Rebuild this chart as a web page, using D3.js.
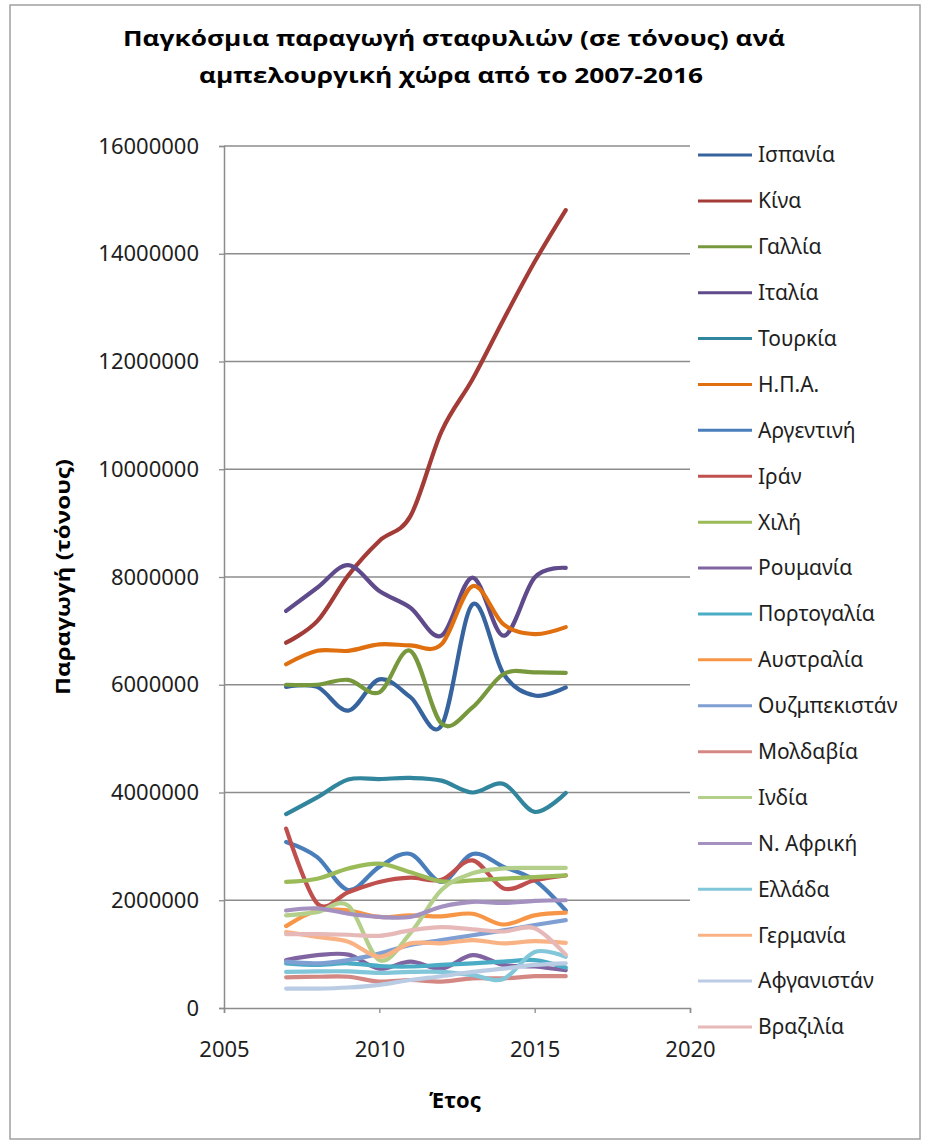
<!DOCTYPE html>
<html>
<head>
<meta charset="utf-8">
<script src="https://cdnjs.cloudflare.com/ajax/libs/d3/7.8.5/d3.min.js"></script>
<style>
  body { margin: 0; background: #fff; }
  svg { display: block; }
</style>
</head>
<body>
<svg id="chart"></svg>
<script>
// years on the x axis
var years = [2007, 2008, 2009, 2010, 2011, 2012, 2013, 2014, 2015, 2016];

// production in tonnes
var ispania     = [5960000, 5960000, 5520000, 6100000, 5770000, 5240000, 7490000, 6200000, 5800000, 5950000];
var kina        = [6780000, 7180000, 8030000, 8670000, 9130000, 10700000, 11670000, 12780000, 13850000, 14810000];
var gallia      = [6000000, 6000000, 6090000, 5860000, 6630000, 5280000, 5580000, 6200000, 6230000, 6220000];
var italia      = [7370000, 7800000, 8220000, 7740000, 7430000, 6910000, 7990000, 6910000, 7990000, 8170000];
var tourkia     = [3600000, 3910000, 4240000, 4250000, 4270000, 4220000, 4000000, 4160000, 3640000, 3990000];
var ipa         = [6380000, 6630000, 6630000, 6750000, 6730000, 6750000, 7830000, 7120000, 6940000, 7070000];
var argentini   = [3080000, 2800000, 2190000, 2620000, 2860000, 2340000, 2860000, 2620000, 2370000, 1810000];
var iran        = [3330000, 1940000, 2150000, 2340000, 2420000, 2380000, 2740000, 2220000, 2370000, 2460000];
var chili       = [2340000, 2400000, 2590000, 2680000, 2520000, 2350000, 2370000, 2400000, 2430000, 2460000];
var roumania    = [890000, 980000, 990000, 730000, 860000, 730000, 980000, 800000, 770000, 700000];
var portogalia  = [830000, 800000, 830000, 780000, 770000, 800000, 830000, 860000, 890000, 750000];
var australia   = [1520000, 1810000, 1810000, 1690000, 1720000, 1700000, 1750000, 1550000, 1720000, 1770000];
var ouzbekistan = [860000, 830000, 890000, 1010000, 1170000, 1260000, 1350000, 1440000, 1540000, 1630000];
var moldavia    = [570000, 580000, 580000, 490000, 520000, 490000, 550000, 550000, 590000, 590000];
var india       = [1720000, 1780000, 1900000, 890000, 1390000, 2190000, 2500000, 2590000, 2600000, 2600000];
var nafriki     = [1810000, 1850000, 1750000, 1690000, 1690000, 1880000, 1970000, 1950000, 1990000, 2000000];
var ellada      = [670000, 680000, 680000, 650000, 670000, 670000, 610000, 540000, 1040000, 950000];
var germania    = [1410000, 1320000, 1230000, 950000, 1200000, 1200000, 1260000, 1200000, 1240000, 1210000];
var afganistan  = [360000, 360000, 380000, 430000, 520000, 590000, 670000, 730000, 800000, 830000];
var brazilia    = [1370000, 1370000, 1360000, 1340000, 1440000, 1500000, 1460000, 1420000, 1480000, 990000];

var countries = ["Ισπανία", "Κίνα", "Γαλλία", "Ιταλία", "Τουρκία", "Η.Π.Α.", "Αργεντινή", "Ιράν", "Χιλή", "Ρουμανία",
                 "Πορτογαλία", "Αυστραλία", "Ουζμπεκιστάν", "Μολδαβία", "Ινδία", "Ν. Αφρική", "Ελλάδα", "Γερμανία",
                 "Αφγανιστάν", "Βραζιλία"];
var values = [ispania, kina, gallia, italia, tourkia, ipa, argentini, iran, chili, roumania,
              portogalia, australia, ouzbekistan, moldavia, india, nafriki, ellada, germania,
              afganistan, brazilia];
var colors = ["#37649e", "#a33b37", "#77983c", "#5f4b8b", "#31859c", "#e0700f", "#4a7ebb", "#c0504d", "#9bbb59", "#8064a2",
              "#4bacc6", "#f79646", "#7f9fd3", "#d48884", "#b3cf8a", "#a491c0", "#82c6da", "#f9b283", "#b9cce4", "#e6b9b8"];

var yTicks = [0, 2000000, 4000000, 6000000, 8000000, 10000000, 12000000, 14000000, 16000000];
var xTicks = [2005, 2010, 2015, 2020];

var width = 925, height = 1144;
var plot = { left: 224, right: 690, top: 146, bottom: 1008 };

var svg = d3.select("#chart").attr("width", width).attr("height", height);

// outer chart frame
svg.append("rect")
  .attr("x", 10).attr("y", 5).attr("width", 910).attr("height", 1134)
  .attr("fill", "#fff").attr("stroke", "#a0a0a0").attr("stroke-width", 1.5);

var x = d3.scaleLinear().domain([2005, 2020]).range([plot.left, plot.right]);
var y = d3.scaleLinear().domain([0, 16000000]).range([plot.bottom, plot.top]);

// gridlines
svg.append("g")
  .selectAll("line")
  .data(yTicks.slice(1))
  .enter().append("line")
  .attr("x1", plot.left).attr("x2", plot.right)
  .attr("y1", function(d) { return y(d); }).attr("y2", function(d) { return y(d); })
  .attr("stroke", "#8c8c8c").attr("stroke-width", 1.3);

// axes
var yAxis = d3.axisLeft(y).tickValues(yTicks).tickSize(5).tickPadding(20).tickFormat(d3.format("d"));
var xAxis = d3.axisBottom(x).tickValues(xTicks).tickSize(5).tickPadding(28).tickFormat(d3.format("d"));

var gy = svg.append("g").attr("transform", "translate(" + plot.left + ",0)").call(yAxis);
var gx = svg.append("g").attr("transform", "translate(0," + plot.bottom + ")").call(xAxis);

[gx, gy].forEach(function(g) {
  g.select(".domain").attr("stroke", "#8c8c8c").attr("stroke-width", 1.5);
  g.selectAll(".tick line").attr("stroke", "#8c8c8c").attr("stroke-width", 1.3);
  g.selectAll(".tick text")
    .attr("fill", "#1e1e1e")
    .style("font-family", "'Noto Sans', sans-serif")
    .style("font-size", "22px");
});

// lines
var line = d3.line()
  .x(function(d, i) { return x(years[i]); })
  .y(function(d) { return y(d); })
  .curve(d3.curveCatmullRom.alpha(0));

svg.append("g")
  .selectAll("path")
  .data(values)
  .enter().append("path")
  .attr("d", line)
  .attr("fill", "none")
  .attr("stroke", function(d, i) { return colors[i]; })
  .attr("stroke-width", 4.2)
  .attr("stroke-linejoin", "round")
  .attr("stroke-linecap", "round");

// legend
var legendY = d3.scalePoint().domain(countries).range([155, 1027]);
var legend = svg.append("g")
  .selectAll("g")
  .data(countries)
  .enter().append("g")
  .attr("transform", function(d) { return "translate(698," + legendY(d) + ")"; });

legend.append("line")
  .attr("x1", 0).attr("x2", 54)
  .attr("stroke", function(d, i) { return colors[i]; })
  .attr("stroke-width", 3);

legend.append("text")
  .attr("x", 60).attr("dy", "0.35em")
  .attr("fill", "#1e1e1e")
  .style("font-family", "'Noto Sans', sans-serif")
  .style("font-size", "21px")
  .text(function(d) { return d; });

// titles
svg.append("text")
  .attr("x", 454).attr("y", 46)
  .attr("text-anchor", "middle")
  .attr("textLength", 662).attr("lengthAdjust", "spacingAndGlyphs")
  .style("font-family", "'Open Sans', sans-serif").style("font-weight", "bold").style("font-size", "22px")
  .text("Παγκόσμια παραγωγή σταφυλιών (σε τόνους) ανά");

svg.append("text")
  .attr("x", 451).attr("y", 83)
  .attr("text-anchor", "middle")
  .attr("textLength", 504).attr("lengthAdjust", "spacingAndGlyphs")
  .style("font-family", "'Open Sans', sans-serif").style("font-weight", "bold").style("font-size", "22px")
  .text("αμπελουργική χώρα από το 2007-2016");

svg.append("text")
  .attr("transform", "translate(70,577) rotate(-90)")
  .attr("text-anchor", "middle")
  .attr("textLength", 236).attr("lengthAdjust", "spacingAndGlyphs")
  .style("font-family", "'Open Sans', sans-serif").style("font-weight", "bold").style("font-size", "20px")
  .text("Παραγωγή (τόνους)");

svg.append("text")
  .attr("x", 455).attr("y", 1108)
  .attr("text-anchor", "middle")
  .style("font-family", "'Open Sans', sans-serif").style("font-weight", "bold").style("font-size", "22px")
  .text("Έτος");
</script>
</body>
</html>
